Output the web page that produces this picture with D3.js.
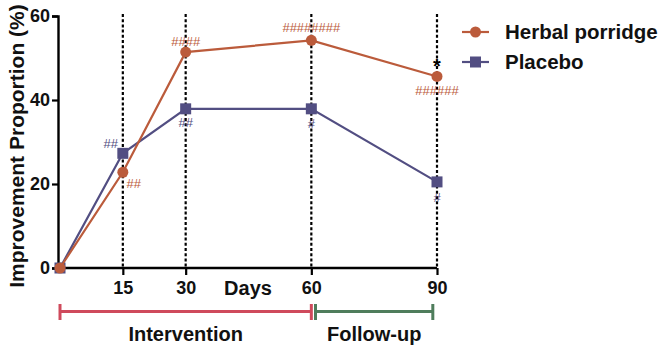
<!DOCTYPE html>
<html>
<head>
<meta charset="utf-8">
<script src="https://cdn.jsdelivr.net/npm/d3@7"></script>
<style>
  body { margin: 0; background: #fff; }
  svg { display: block; font-family: "Liberation Sans", Arial, sans-serif; }
</style>
</head>
<body>
<div id="chart"></div>
<script>
const days = [0, 15, 30, 60, 90];
const herbal = [0, 22.8, 51.4, 54.2, 45.6];
const placebo = [0, 27.3, 37.9, 37.9, 20.5];
const xTicks = [15, 30, 60, 90];
const yTicks = [0, 20, 40, 60];
const dashedDays = [15, 30, 60, 90];
// significance marks: [day, text, dx, dy from point]
const herbalMarks = [[15, "##", 11, 11], [30, "####", 0, -11], [60, "########", 0, -13], [90, "######", 0, 14]];
const placeboMarks = [[15, "##", -12, -10], [30, "##", 0, 14], [60, "#", 0, 15], [90, "#", 0, 16]];
const starMarks = [[90, 45.6]];
const phases = [["Intervention", 0, 60], ["Follow-up", 61, 89]];

const W = 661, H = 348;
const herbalColor = "#bb5b3b", placeboColor = "#524e82";

const svg = d3.select("#chart").append("svg")
    .attr("width", W)
    .attr("height", H);

const x = d3.scaleLinear().domain([0, 90]).range([60, 437]);
const y = d3.scaleLinear().domain([0, 60]).range([268, 16]);

// dashed verticals
svg.append("g").selectAll("line")
    .data(dashedDays)
    .join("line")
    .attr("x1", d => x(d)).attr("x2", d => x(d))
    .attr("y1", 14).attr("y2", y(0))
    .attr("stroke", "#000")
    .attr("stroke-width", 2.2)
    .attr("stroke-dasharray", "3,2.2");

// axes
const yAxis = svg.append("g")
    .attr("transform", "translate(58,0)")
    .call(d3.axisLeft(y).tickValues(yTicks).tickSize(6).tickPadding(2));
const xAxis = svg.append("g")
    .attr("transform", `translate(0,${y(0)})`)
    .call(d3.axisBottom(x).tickValues(xTicks).tickSize(7).tickPadding(6));
xAxis.select(".domain").attr("d", `M58,0H${x(90)}`);
[xAxis, yAxis].forEach(a => {
    a.select(".domain").attr("stroke", "#000").attr("stroke-width", 2.4);
    a.selectAll(".tick line").attr("stroke", "#000").attr("stroke-width", 2.2);
    a.selectAll(".tick text")
        .attr("fill", "#111")
        .style("font-size", "18px")
        .style("font-weight", "bold")
        .style("font-family", "'Liberation Sans', Arial, sans-serif");
});

// axis titles
svg.append("text")
    .attr("transform", "translate(24,146) rotate(-90)")
    .attr("text-anchor", "middle")
    .style("font-size", "21px")
    .style("font-weight", "bold")
    .attr("fill", "#111")
    .text("Improvement Proportion (%)");

svg.append("text")
    .attr("x", 248).attr("y", 295)
    .attr("text-anchor", "middle")
    .style("font-size", "20px")
    .style("font-weight", "bold")
    .attr("fill", "#111")
    .text("Days");

// series
const line = d3.line().x(d => x(d[0])).y(d => y(d[1]));
const series = [
    { name: "Herbal porridge", values: herbal, color: herbalColor, shape: "circle", marks: herbalMarks },
    { name: "Placebo", values: placebo, color: placeboColor, shape: "square", marks: placeboMarks }
];

function drawMarker(g, shape, cx, cy, color) {
    if (shape == "circle") {
        g.append("circle").attr("cx", cx).attr("cy", cy).attr("r", 5.5).attr("fill", color);
    } else {
        g.append("rect").attr("x", cx - 5.5).attr("y", cy - 5.5)
            .attr("width", 11).attr("height", 11).attr("fill", color);
    }
}

series.slice().reverse().forEach(s => {
    const pts = days.map((d, i) => [d, s.values[i]]);
    const g = svg.append("g");
    g.append("path")
        .attr("d", line(pts))
        .attr("fill", "none")
        .attr("stroke", s.color)
        .attr("stroke-width", 2.2);
    pts.forEach(p => drawMarker(g, s.shape, x(p[0]), y(p[1]), s.color));
});

series.forEach(s => {
    svg.append("g").selectAll("text")
        .data(s.marks)
        .join("text")
        .attr("x", d => x(d[0]) + d[2])
        .attr("y", d => y(s.values[days.indexOf(d[0])]) + d[3])
        .attr("dy", "0.35em")
        .attr("text-anchor", "middle")
        .style("font-size", "13px")
        .attr("fill", s.color)
        .text(d => d[1]);
});

svg.append("g").selectAll("text")
    .data(starMarks)
    .join("text")
    .attr("x", d => x(d[0]))
    .attr("y", d => y(d[1]) - 3)
    .attr("text-anchor", "middle")
    .style("font-size", "20px")
    .style("font-weight", "bold")
    .attr("fill", "#000")
    .text("*");

// legend
const legend = svg.append("g");
series.forEach((s, i) => {
    const ly = 32 + i * 30;
    legend.append("line")
        .attr("x1", 462).attr("x2", 489)
        .attr("y1", ly).attr("y2", ly)
        .attr("stroke", s.color).attr("stroke-width", 2.2);
    drawMarker(legend, s.shape, 475.5, ly, s.color);
    legend.append("text")
        .attr("x", 505).attr("y", ly)
        .attr("dy", "0.36em")
        .style("font-size", "20.5px")
        .style("font-weight", "bold")
        .attr("fill", "#111")
        .text(s.name);
});

// phase bars
const phaseColors = ["#cf4a5c", "#4f7d5c"];
phases.forEach((p, i) => {
    const g = svg.append("g").attr("stroke", phaseColors[i]).attr("stroke-width", 3);
    const x0 = x(p[1]), x1 = x(p[2]);
    g.append("line").attr("x1", x0).attr("x2", x1).attr("y1", 311.5).attr("y2", 311.5);
    g.append("line").attr("x1", x0).attr("x2", x0).attr("y1", 304).attr("y2", 320);
    g.append("line").attr("x1", x1).attr("x2", x1).attr("y1", 304).attr("y2", 320);
    svg.append("text")
        .attr("x", (x0 + x1) / 2)
        .attr("y", 341)
        .attr("text-anchor", "middle")
        .style("font-size", "20px")
        .style("font-weight", "bold")
        .attr("fill", "#111")
        .text(p[0]);
});
</script>
</body>
</html>
